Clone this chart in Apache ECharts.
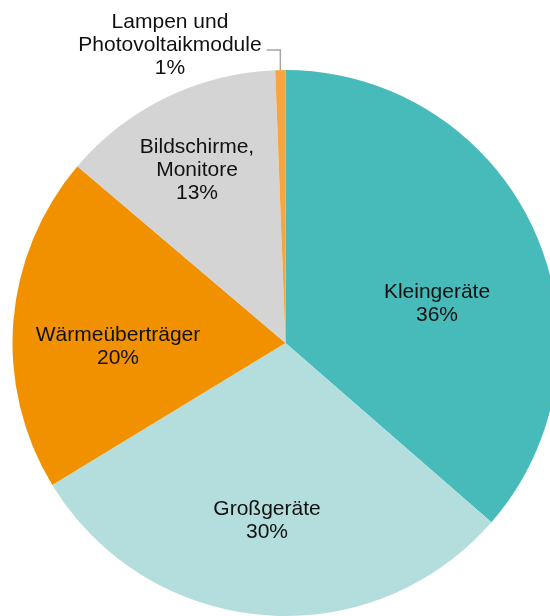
<!DOCTYPE html>
<html>
<head>
<meta charset="utf-8">
<script src="https://cdn.jsdelivr.net/npm/echarts@6/dist/echarts.min.js"></script>
<style>
  html, body { margin: 0; padding: 0; background: #fff; }
  #chart { width: 550px; height: 616px; }
</style>
</head>
<body>
<div id="chart"></div>
<script>
// Kategorien und Anteile (Werte aus dem Bild geschätzt)
const categories = ["Kleingeräte", "Großgeräte", "Wärmeüberträger", "Bildschirme,\nMonitore", "Lampen und\nPhotovoltaikmodule"];
const values = [36.4, 29.9, 19.9, 13.2, 0.6];
const colors = ["#47bbba", "#b4dedd", "#f29100", "#d4d4d4", "#f5a641"];

const cx = 285.5, cy = 343, radius = 273;

// Label-Mitte je Segment (Excel "best fit")
const labelPos = [
  [437, 304],
  [267, 521],
  [118, 347],
  [197, 170],
  [170, 45]
];

const chart = echarts.init(document.getElementById("chart"));
chart.setOption({
  animation: false,
  series: [
    {
      type: "pie",
      center: [cx, cy],
      radius: radius,
      startAngle: 90,
      clockwise: true,
      itemStyle: { borderWidth: 0 },
      label: {
        show: true,
        position: "inside",
        color: "#111",
        fontFamily: "Liberation Sans, Arial, sans-serif",
        fontSize: 21,
        lineHeight: 23,
        align: "center",
        formatter: p => p.name + "\n" + Math.round(p.percent) + "%"
      },
      labelLine: { show: false },
      emphasis: { disabled: true },
      data: categories.map((c, i) => ({
        name: c,
        value: values[i],
        itemStyle: { color: colors[i] },
        label: i === 4 ? { position: "outside" } : {},
        labelLine: i === 4 ? { show: true, lineStyle: { color: "#a6a6a6", width: 1.5 } } : { show: false }
      })),
      labelLayout: function (params) {
        const i = params.dataIndex;
        const res = {
          x: labelPos[i][0],
          y: labelPos[i][1],
          align: "center",
          verticalAlign: "middle"
        };
        if (i === 4) {
          // Führungslinie: vom Bogen nach oben, dann nach links zum Text
          let before = 0;
          for (let k = 0; k < 4; k++) before += values[k];
          const total = values.reduce((a, b) => a + b, 0);
          const mid = (before + values[4] / 2) / total * 2 * Math.PI;
          const px = cx + radius * Math.sin(mid);
          const py = cy - radius * Math.cos(mid);
          const rect = params.labelRect;
          const right = labelPos[i][0] + rect.width / 2 + 5;
          res.labelLinePoints = [[px, py], [px, py - 20], [right, py - 20]];
        }
        return res;
      }
    }
  ]
});
</script>
</body>
</html>
